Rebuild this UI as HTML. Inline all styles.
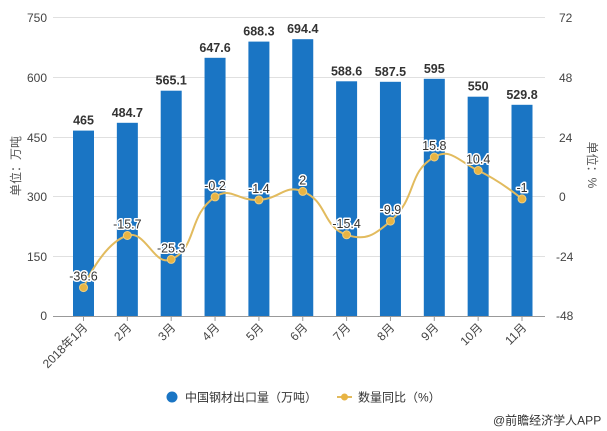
<!DOCTYPE html>
<html><head><meta charset="utf-8"><style>
html,body{margin:0;padding:0;background:#fff;}
svg{display:block;font-family:"Liberation Sans","Noto Sans CJK SC",sans-serif;}
</style></head><body>
<svg width="607" height="431" viewBox="0 0 607 431" xmlns="http://www.w3.org/2000/svg">
<g stroke="#e0e0e0" stroke-width="1">
<line x1="53" y1="17.5" x2="545" y2="17.5"/>
<line x1="53" y1="77.5" x2="545" y2="77.5"/>
<line x1="53" y1="137.5" x2="545" y2="137.5"/>
<line x1="53" y1="196.5" x2="545" y2="196.5"/>
<line x1="53" y1="256.5" x2="545" y2="256.5"/>
</g>
<g font-size="12" fill="#444" text-anchor="end">
<text x="47" y="22">750</text>
<text x="47" y="82">600</text>
<text x="47" y="142">450</text>
<text x="47" y="201">300</text>
<text x="47" y="261">150</text>
<text x="47" y="320">0</text>
</g>
<g font-size="12" fill="#444" text-anchor="start">
<text x="559" y="22">72</text>
<text x="559" y="82">48</text>
<text x="559" y="142">24</text>
<text x="559" y="201">0</text>
<text x="556" y="261">-24</text>
<text x="556" y="320">-48</text>
</g>
<text transform="translate(17,166) rotate(-90)" font-size="12" fill="#555" text-anchor="middle" dominant-baseline="middle">单位：万吨</text>
<text transform="translate(591,165) rotate(90)" font-size="12" fill="#555" text-anchor="middle" dominant-baseline="middle">单位：%</text>
<g fill="#1a75c4">
<rect x="73" y="130.6" width="21" height="185.4"/>
<rect x="116.85" y="122.8" width="21" height="193.2"/>
<rect x="160.7" y="90.7" width="21" height="225.3"/>
<rect x="204.55" y="57.8" width="21" height="258.2"/>
<rect x="248.4" y="41.6" width="21" height="274.4"/>
<rect x="292.25" y="39.2" width="21" height="276.8"/>
<rect x="336.1" y="81.3" width="21" height="234.7"/>
<rect x="379.95" y="81.8" width="21" height="234.2"/>
<rect x="423.8" y="78.8" width="21" height="237.2"/>
<rect x="467.65" y="96.7" width="21" height="219.3"/>
<rect x="511.5" y="104.8" width="21" height="211.2"/>
</g>
<line x1="53" y1="316.5" x2="545" y2="316.5" stroke="#999" stroke-width="1"/>
<g stroke="#999" stroke-width="1">
<line x1="83.5" y1="316" x2="83.5" y2="321"/>
<line x1="127.35" y1="316" x2="127.35" y2="321"/>
<line x1="171.2" y1="316" x2="171.2" y2="321"/>
<line x1="215.05" y1="316" x2="215.05" y2="321"/>
<line x1="258.9" y1="316" x2="258.9" y2="321"/>
<line x1="302.75" y1="316" x2="302.75" y2="321"/>
<line x1="346.6" y1="316" x2="346.6" y2="321"/>
<line x1="390.45" y1="316" x2="390.45" y2="321"/>
<line x1="434.3" y1="316" x2="434.3" y2="321"/>
<line x1="478.15" y1="316" x2="478.15" y2="321"/>
<line x1="522" y1="316" x2="522" y2="321"/>
</g>
<g font-size="12" fill="#444" text-anchor="end" dominant-baseline="middle">
<text transform="translate(86,326) rotate(-45)">2018年1月</text>
<text transform="translate(130,326) rotate(-45)">2月</text>
<text transform="translate(174,326) rotate(-45)">3月</text>
<text transform="translate(218,326) rotate(-45)">4月</text>
<text transform="translate(262,326) rotate(-45)">5月</text>
<text transform="translate(306,326) rotate(-45)">6月</text>
<text transform="translate(349,326) rotate(-45)">7月</text>
<text transform="translate(393,326) rotate(-45)">8月</text>
<text transform="translate(437,326) rotate(-45)">9月</text>
<text transform="translate(481,326) rotate(-45)">10月</text>
<text transform="translate(525,326) rotate(-45)">11月</text>
</g>
<g font-size="12.5" font-weight="bold" fill="#333" text-anchor="middle">
<text x="83.5" y="124.6">465</text>
<text x="127.35" y="116.8">484.7</text>
<text x="171.2" y="84.7">565.1</text>
<text x="215.05" y="51.8">647.6</text>
<text x="258.9" y="35.6">688.3</text>
<text x="302.75" y="33.2">694.4</text>
<text x="346.6" y="75.3">588.6</text>
<text x="390.45" y="75.8">587.5</text>
<text x="434.3" y="72.8">595</text>
<text x="478.15" y="90.7">550</text>
<text x="522" y="98.8">529.8</text>
</g>
<path d="M83.5,287.6 C83.5,287.6 102.05,243.64 127.35,235.5 C145.9,229.54 153.88,267.02 171.2,259.4 C197.73,247.72 187.2,215.79 215.05,196.9 C231.06,186.04 237.15,201.26 258.9,199.9 C281,198.51 284.33,184.07 302.75,191.4 C328.18,201.52 321.47,226.29 346.6,234.8 C365.32,241.14 374.18,235.53 390.45,221.1 C418.03,196.63 406.72,172.91 434.3,157 C450.57,147.61 457.63,160.7 478.15,170.5 C501.48,181.65 522,198.9 522,198.9" fill="none" stroke="#e2bb5e" stroke-width="2"/>
<g fill="#e8b443" stroke="#f0cf80" stroke-width="1">
<circle cx="83.5" cy="287.6" r="4"/>
<circle cx="127.35" cy="235.5" r="4"/>
<circle cx="171.2" cy="259.4" r="4"/>
<circle cx="215.05" cy="196.9" r="4"/>
<circle cx="258.9" cy="199.9" r="4"/>
<circle cx="302.75" cy="191.4" r="4"/>
<circle cx="346.6" cy="234.8" r="4"/>
<circle cx="390.45" cy="221.1" r="4"/>
<circle cx="434.3" cy="157" r="4"/>
<circle cx="478.15" cy="170.5" r="4"/>
<circle cx="522" cy="198.9" r="4"/>
</g>
<g font-size="12.5" fill="#333" text-anchor="middle" stroke="#fff" stroke-width="3" paint-order="stroke" stroke-linejoin="round">
<text x="83.5" y="280.6">-36.6</text>
<text x="127.35" y="228.5">-15.7</text>
<text x="171.2" y="252.4">-25.3</text>
<text x="215.05" y="189.9">-0.2</text>
<text x="258.9" y="192.9">-1.4</text>
<text x="302.75" y="184.4">2</text>
<text x="346.6" y="227.8">-15.4</text>
<text x="390.45" y="214.1">-9.9</text>
<text x="434.3" y="150">15.8</text>
<text x="478.15" y="163.5">10.4</text>
<text x="522" y="191.9">-1</text>
</g>
<circle cx="172" cy="397" r="5.5" fill="#1a75c4"/>
<text x="185" y="401.5" font-size="12" fill="#333">中国钢材出口量（万吨）</text>
<line x1="337" y1="397" x2="352" y2="397" stroke="#e2bb5e" stroke-width="2"/>
<circle cx="344.5" cy="397" r="3.5" fill="#e8b443"/>
<text x="358" y="401.5" font-size="12" fill="#333">数量同比（%）</text>
<text x="493" y="424.5" font-size="12" fill="#333">@前瞻经济学人APP</text>
</svg>
</body></html>
